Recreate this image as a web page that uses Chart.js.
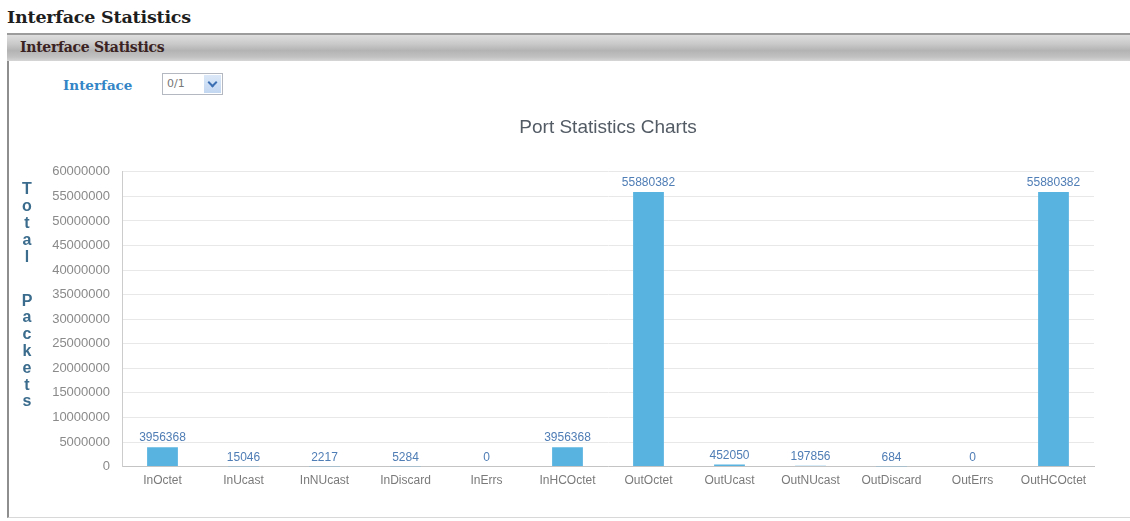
<!DOCTYPE html>
<html>
<head>
<meta charset="utf-8">
<title>Interface Statistics</title>
<script src="https://cdn.jsdelivr.net/npm/chart.js@4/dist/chart.umd.min.js"></script>
<style>
  html, body { margin: 0; padding: 0; background: #fff; width: 1130px; height: 521px; overflow: hidden; }
  .page-title { position: absolute; left: 7px; top: 7px; font: bold 17.5px "DejaVu Serif", serif; color: #1e1e1e; letter-spacing: -0.2px; }
  .box { position: absolute; left: 7px; top: 33px; width: 1140px; height: 484px; border-left: 2px solid #8e8e8e; border-bottom: 1px solid #d8d8d8; }
  .box-head { position: absolute; left: 7px; top: 33px; width: 1142px; height: 26px; border-top: 2px solid #9c9c9c;
    background: linear-gradient(#dedede 0%, #c9c9c9 35%, #b3b3b3 60%, #c2c2c2 85%, #d6d6d6 100%); }
  .box-head span { position: absolute; left: 13px; top: 4px; font: bold 14px "DejaVu Serif", serif; color: #3a2222; letter-spacing: -0.3px; }
  .if-label { position: absolute; left: 63px; top: 77px; font: bold 13.5px "DejaVu Serif", serif; color: #3385c6; }
  .sel { position: absolute; left: 162px; top: 73px; width: 59px; height: 20px; border: 1px solid #b4b8c0; background: #fff; }
  .sel .val { position: absolute; left: 4px; top: 3px; font: 11px "DejaVu Sans", sans-serif; color: #777; }
  .sel .btn { position: absolute; right: 1px; top: 1px; width: 17px; height: 18px; background: linear-gradient(#dbe8f8, #c3d7f1); }
  .sel .btn::after { content: ""; position: absolute; left: 5px; top: 4px; width: 5px; height: 5px; border-right: 2px solid #3d6fb3; border-bottom: 2px solid #3d6fb3; transform: rotate(45deg); }
  #wrap { position: absolute; left: 8px; top: 100px; width: 1112px; height: 410px; }
</style>
</head>
<body>
<div class="page-title">Interface Statistics</div>
<div class="box"></div>
<div class="box-head"><span>Interface Statistics</span></div>
<div class="if-label">Interface</div>
<div class="sel"><span class="val">0/1</span><span class="btn"></span></div>
<div id="wrap"><canvas id="chart"></canvas></div>
<script>
// Port counters for the selected interface
const categories = ['InOctet', 'InUcast', 'InNUcast', 'InDiscard', 'InErrs', 'InHCOctet',
                    'OutOctet', 'OutUcast', 'OutNUcast', 'OutDiscard', 'OutErrs', 'OutHCOctet'];
const packetCounts = [3956368, 15046, 2217, 5284, 0, 3956368,
                      55880382, 452050, 197856, 684, 0, 55880382];
const yAxisMax = 60000000;
const yAxisStep = 5000000;
const chartTitle = 'Port Statistics Charts';
const yAxisTitle = 'Total Packets';

const FONT = '"Liberation Sans", Arial, sans-serif';

// Writes each bar's count just above it
const valueLabels = {
  id: 'valueLabels',
  afterDatasetsDraw(chart) {
    const ctx = chart.ctx;
    const meta = chart.getDatasetMeta(0);
    ctx.save();
    ctx.font = '12px ' + FONT;
    ctx.fillStyle = '#4f7db5';
    ctx.textAlign = 'center';
    ctx.textBaseline = 'bottom';
    meta.data.forEach((bar, i) => {
      ctx.fillText(String(chart.data.datasets[0].data[i]), bar.x, bar.y - 3);
    });
    ctx.restore();
  }
};

// Stacks the y-axis caption one letter per line
const stackedAxisTitle = {
  id: 'stackedAxisTitle',
  afterDraw(chart) {
    const ctx = chart.ctx;
    const lineH = 16.8;
    const wordGap = 44;
    let y = 90;
    ctx.save();
    ctx.font = 'bold 16px ' + FONT;
    ctx.fillStyle = '#3b6c8d';
    ctx.textAlign = 'center';
    ctx.textBaseline = 'middle';
    const words = yAxisTitle.split(' ');
    words.forEach((word, w) => {
      if (w > 0) y += wordGap - lineH;
      for (const ch of word) {
        ctx.fillText(ch, 19, y);
        y += lineH;
      }
    });
    ctx.restore();
  }
};

new Chart(document.getElementById('chart'), {
  type: 'bar',
  data: {
    labels: categories,
    datasets: [{
      data: packetCounts,
      backgroundColor: '#58b3e1',
      borderWidth: 0,
      categoryPercentage: 1,
      barPercentage: 0.38
    }]
  },
  options: {
    responsive: true,
    maintainAspectRatio: false,
    animation: false,
    layout: { padding: { left: 0, right: 26, top: 0, bottom: 15 } },
    plugins: {
      legend: { display: false },
      tooltip: { enabled: false },
      title: {
        display: true,
        fullSize: false,
        text: chartTitle,
        color: '#535b65',
        font: { family: FONT, size: 19, weight: 'normal' },
        padding: { top: 16, bottom: 33 }
      }
    },
    scales: {
      x: {
        grid: { display: false, drawTicks: false },
        border: { display: true, color: '#c4c4c4' },
        ticks: { color: '#7a7a7a', font: { family: FONT, size: 12 }, padding: 7, maxRotation: 0, autoSkip: false }
      },
      y: {
        min: 0,
        max: yAxisMax,
        afterFit(scale) { scale.width = 114; },
        grid: { color: '#e8e8e8', drawTicks: false },
        border: { display: true, color: '#cccccc' },
        ticks: {
          stepSize: yAxisStep,
          color: '#8a8a8a',
          font: { family: FONT, size: 13 },
          padding: 12,
          callback: (v) => String(v)
        }
      }
    }
  },
  plugins: [valueLabels, stackedAxisTitle]
});
</script>
</body>
</html>
